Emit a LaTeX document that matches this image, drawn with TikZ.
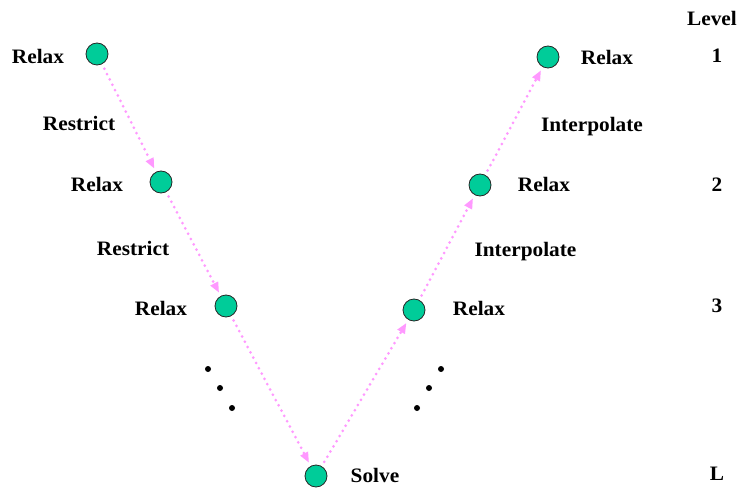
\documentclass[tikz,border=0pt]{standalone}
\usepackage{fontspec}
\setmainfont{Liberation Serif}[FakeStretch=1.04]
\usetikzlibrary{arrows.meta}
\definecolor{gridgreen}{RGB}{0,204,153}
\definecolor{arrpink}{RGB}{255,153,255}
\begin{document}
\begin{tikzpicture}[x=1pt,y=-1pt,
  lvl/.style={circle,draw=black!85,line width=0.8pt,fill=gridgreen,minimum size=22pt,inner sep=0pt},
  lab/.style={font=\fontsize{20.5}{24}\selectfont\bfseries,inner sep=0pt},
  dotb/.style={circle,fill=black,minimum size=6pt,inner sep=0pt},
  flow/.style={draw=arrpink,line width=3pt,line cap=round,dash pattern=on 0pt off 6pt,
    -{Triangle[length=10pt,width=9pt,fill=arrpink,line width=0pt]},shorten <=5pt,shorten >=4pt}]
\useasboundingbox (0,0) rectangle (741,489);
% nodes
\node[lvl] (n1) at (97,54) {};
\node[lvl] (n2) at (161,182) {};
\node[lvl] (n3) at (226,306) {};
\node[lvl] (nL) at (316,476) {};
\node[lvl] (m3) at (414,310) {};
\node[lvl] (m2) at (480,185) {};
\node[lvl] (m1) at (548,57) {};
% connectors
\draw[flow] (n1) -- (n2);
\draw[flow] (n2) -- (n3);
\draw[flow] (n3) -- (nL);
\draw[flow] (nL) -- (m3);
\draw[flow] (m3) -- (m2);
\draw[flow] (m2) -- (m1);
% labels
\node[lab] (t1) at (38,56) {Relax};
\node[lab] (t2) at (79,123) {Restrict};
\node[lab] (t3) at (97,184) {Relax};
\node[lab] (t4) at (133,248) {Restrict};
\node[lab] (t5) at (161,308) {Relax};
\node[lab] (t6) at (375,475) {Solve};
\node[lab] (t7) at (479,308) {Relax};
\node[lab] (t8) at (525.5,252) {Interpolate};
\node[lab] (t9) at (544,184) {Relax};
\node[lab] (t10) at (592,127) {Interpolate};
\node[lab] (t11) at (607,57) {Relax};
\node[lab] (lv) at (712,18) {Level};
\node[lab] (l1) at (717,56) {1};
\node[lab] (l2) at (717,185) {2};
\node[lab] (l3) at (717,306) {3};
\node[lab] (lL) at (717,474) {L};
% ellipsis dots
\node[dotb] (d1) at (208,369) {};
\node[dotb] (d2) at (220,388) {};
\node[dotb] (d3) at (232,408) {};
\node[dotb] (e1) at (441,369) {};
\node[dotb] (e2) at (429,388) {};
\node[dotb] (e3) at (417,408) {};
\end{tikzpicture}
\end{document}
